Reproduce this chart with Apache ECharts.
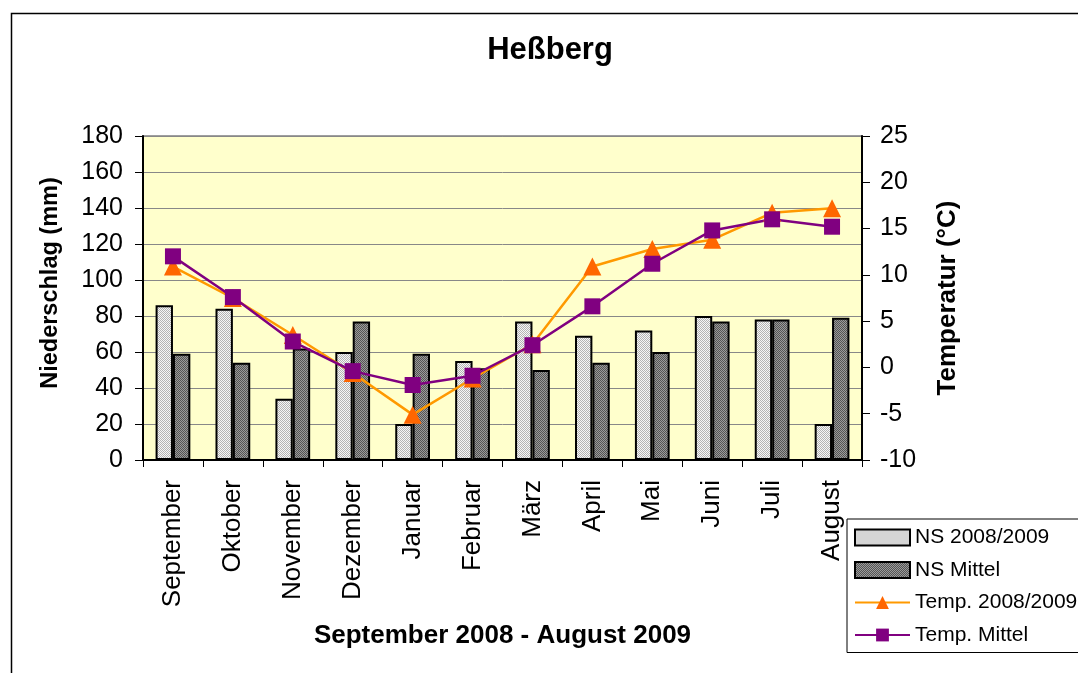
<!DOCTYPE html>
<html>
<head>
<meta charset="utf-8">
<script src="https://cdn.jsdelivr.net/npm/echarts@6/dist/echarts.min.js"></script>
<style>
html,body{margin:0;padding:0;background:#fff;}
#chart{width:1078px;height:673px;}
</style>
</head>
<body>
<div id="chart"></div>
<script>
const months = ['September','Oktober','November','Dezember','Januar','Februar','März','April','Mai','Juni','Juli','August'];
const ns2008 = [86, 84, 34, 60, 20, 55, 77, 69, 72, 80, 78, 20];
const nsMittel = [59, 54, 62, 77, 59, 51, 50, 54, 60, 77, 78, 79];
const temp2008 = [10.9, 7.5, 3.5, -0.6, -5.1, -1.2, 2.5, 10.9, 12.8, 13.8, 16.7, 17.2];
const tempMittel = [12.0, 7.6, 2.8, -0.4, -1.9, -0.9, 2.4, 6.6, 11.2, 14.8, 16.0, 15.2];
const leftTicks = [0, 180, 20];
const rightTicks = [-10, 25, 5];

function makePattern(c1, c2) {
  const cv = document.createElement('canvas');
  cv.width = 2; cv.height = 2;
  const ctx = cv.getContext('2d');
  ctx.fillStyle = c1; ctx.fillRect(0, 0, 2, 2);
  ctx.fillStyle = c2; ctx.fillRect(0, 0, 1, 1); ctx.fillRect(1, 1, 1, 1);
  return cv;
}
const lightFill = { image: makePattern('#f6f6f6', '#b4b4b4'), repeat: 'repeat' };
const darkFill = { image: makePattern('#9a9a9a', '#555555'), repeat: 'repeat' };

const FONT = "'Liberation Sans', Arial, sans-serif";
const chart = echarts.init(document.getElementById('chart'), null, { renderer: 'canvas' });
chart.setOption({
  backgroundColor: '#ffffff',
  animation: false,
  textStyle: { fontFamily: FONT, color: '#000' },
  title: {
    text: 'Heßberg',
    left: 550, top: 35, textAlign: 'center', padding: 0,
    textStyle: { fontFamily: FONT, fontSize: 31, fontWeight: 'bold', color: '#000' }
  },
  graphic: [{
    type: 'rect', left: 9, top: 11, silent: true,
    shape: { width: 1100, height: 700 },
    style: { fill: 'none', stroke: '#000', lineWidth: 1.5 }
  }],
  legend: {
    orient: 'vertical',
    left: 847, top: 519,
    padding: [8, 40, 7, 7],
    borderColor: '#000', borderWidth: 1,
    backgroundColor: '#fff',
    itemWidth: 55, itemHeight: 16, itemGap: 11.5,
    textStyle: { fontFamily: FONT, fontSize: 21, color: '#000' },
    data: [
      { name: 'NS 2008/2009', icon: 'rect' },
      { name: 'NS Mittel', icon: 'rect' },
      'Temp. 2008/2009',
      'Temp. Mittel'
    ]
  },
  grid: {
    left: 143, top: 136, right: 216, bottom: 213,
    show: true, backgroundColor: '#FFFFCC', borderColor: '#808080', borderWidth: 1.5,
    containLabel: false
  },
  xAxis: {
    type: 'category', data: months,
    boundaryGap: true,
    name: 'September 2008 - August 2009', nameLocation: 'middle', nameGap: 163,
    nameTextStyle: { fontFamily: FONT, fontSize: 26, fontWeight: 'bold', color: '#000' },
    axisLine: { lineStyle: { color: '#000', width: 2 } },
    axisTick: { show: true, alignWithLabel: false, length: 7, lineStyle: { color: '#000', width: 1 } },
    axisLabel: { rotate: 90, margin: 20, fontFamily: FONT, fontSize: 26, color: '#000', interval: 0 }
  },
  yAxis: [{
    type: 'value', min: leftTicks[0], max: leftTicks[1], interval: leftTicks[2],
    position: 'left',
    name: 'Niederschlag (mm)', nameLocation: 'middle', nameGap: 80,
    nameTextStyle: { fontFamily: FONT, fontSize: 23.5, fontWeight: 'bold', color: '#000', padding: [0, 0, 0, 30] },
    axisLine: { show: true, lineStyle: { color: '#000', width: 2 } },
    axisTick: { show: true, length: 8, lineStyle: { color: '#000', width: 1 } },
    axisLabel: { margin: 20, fontFamily: FONT, fontSize: 25, color: '#000' },
    splitLine: { show: true, lineStyle: { color: '#888888', width: 1 } }
  }, {
    type: 'value', min: rightTicks[0], max: rightTicks[1], interval: rightTicks[2],
    position: 'right',
    name: 'Temperatur (°C)', nameLocation: 'middle', nameGap: 73,
    nameTextStyle: { fontFamily: FONT, fontSize: 26, fontWeight: 'bold', color: '#000' },
    axisLine: { show: true, lineStyle: { color: '#000', width: 2 } },
    axisTick: { show: true, length: 8, lineStyle: { color: '#000', width: 1 } },
    axisLabel: { margin: 18, fontFamily: FONT, fontSize: 25, color: '#000' },
    splitLine: { show: false }
  }],
  series: [{
    name: 'NS 2008/2009', type: 'bar', yAxisIndex: 0, data: ns2008,
    barGap: '0%', barCategoryGap: '42%',
    itemStyle: { color: lightFill, borderColor: '#000', borderWidth: 2 }
  }, {
    name: 'NS Mittel', type: 'bar', yAxisIndex: 0, data: nsMittel,
    barGap: '0%', barCategoryGap: '42%',
    itemStyle: { color: darkFill, borderColor: '#000', borderWidth: 2 }
  }, {
    name: 'Temp. 2008/2009', type: 'line', yAxisIndex: 1, data: temp2008,
    symbol: 'triangle', symbolSize: 18,
    lineStyle: { color: '#FF9900', width: 2.5 },
    itemStyle: { color: '#FF6600' }
  }, {
    name: 'Temp. Mittel', type: 'line', yAxisIndex: 1, data: tempMittel,
    symbol: 'rect', symbolSize: 16,
    lineStyle: { color: '#800080', width: 2.5 },
    itemStyle: { color: '#800080' }
  }]
});
</script>
</body>
</html>
